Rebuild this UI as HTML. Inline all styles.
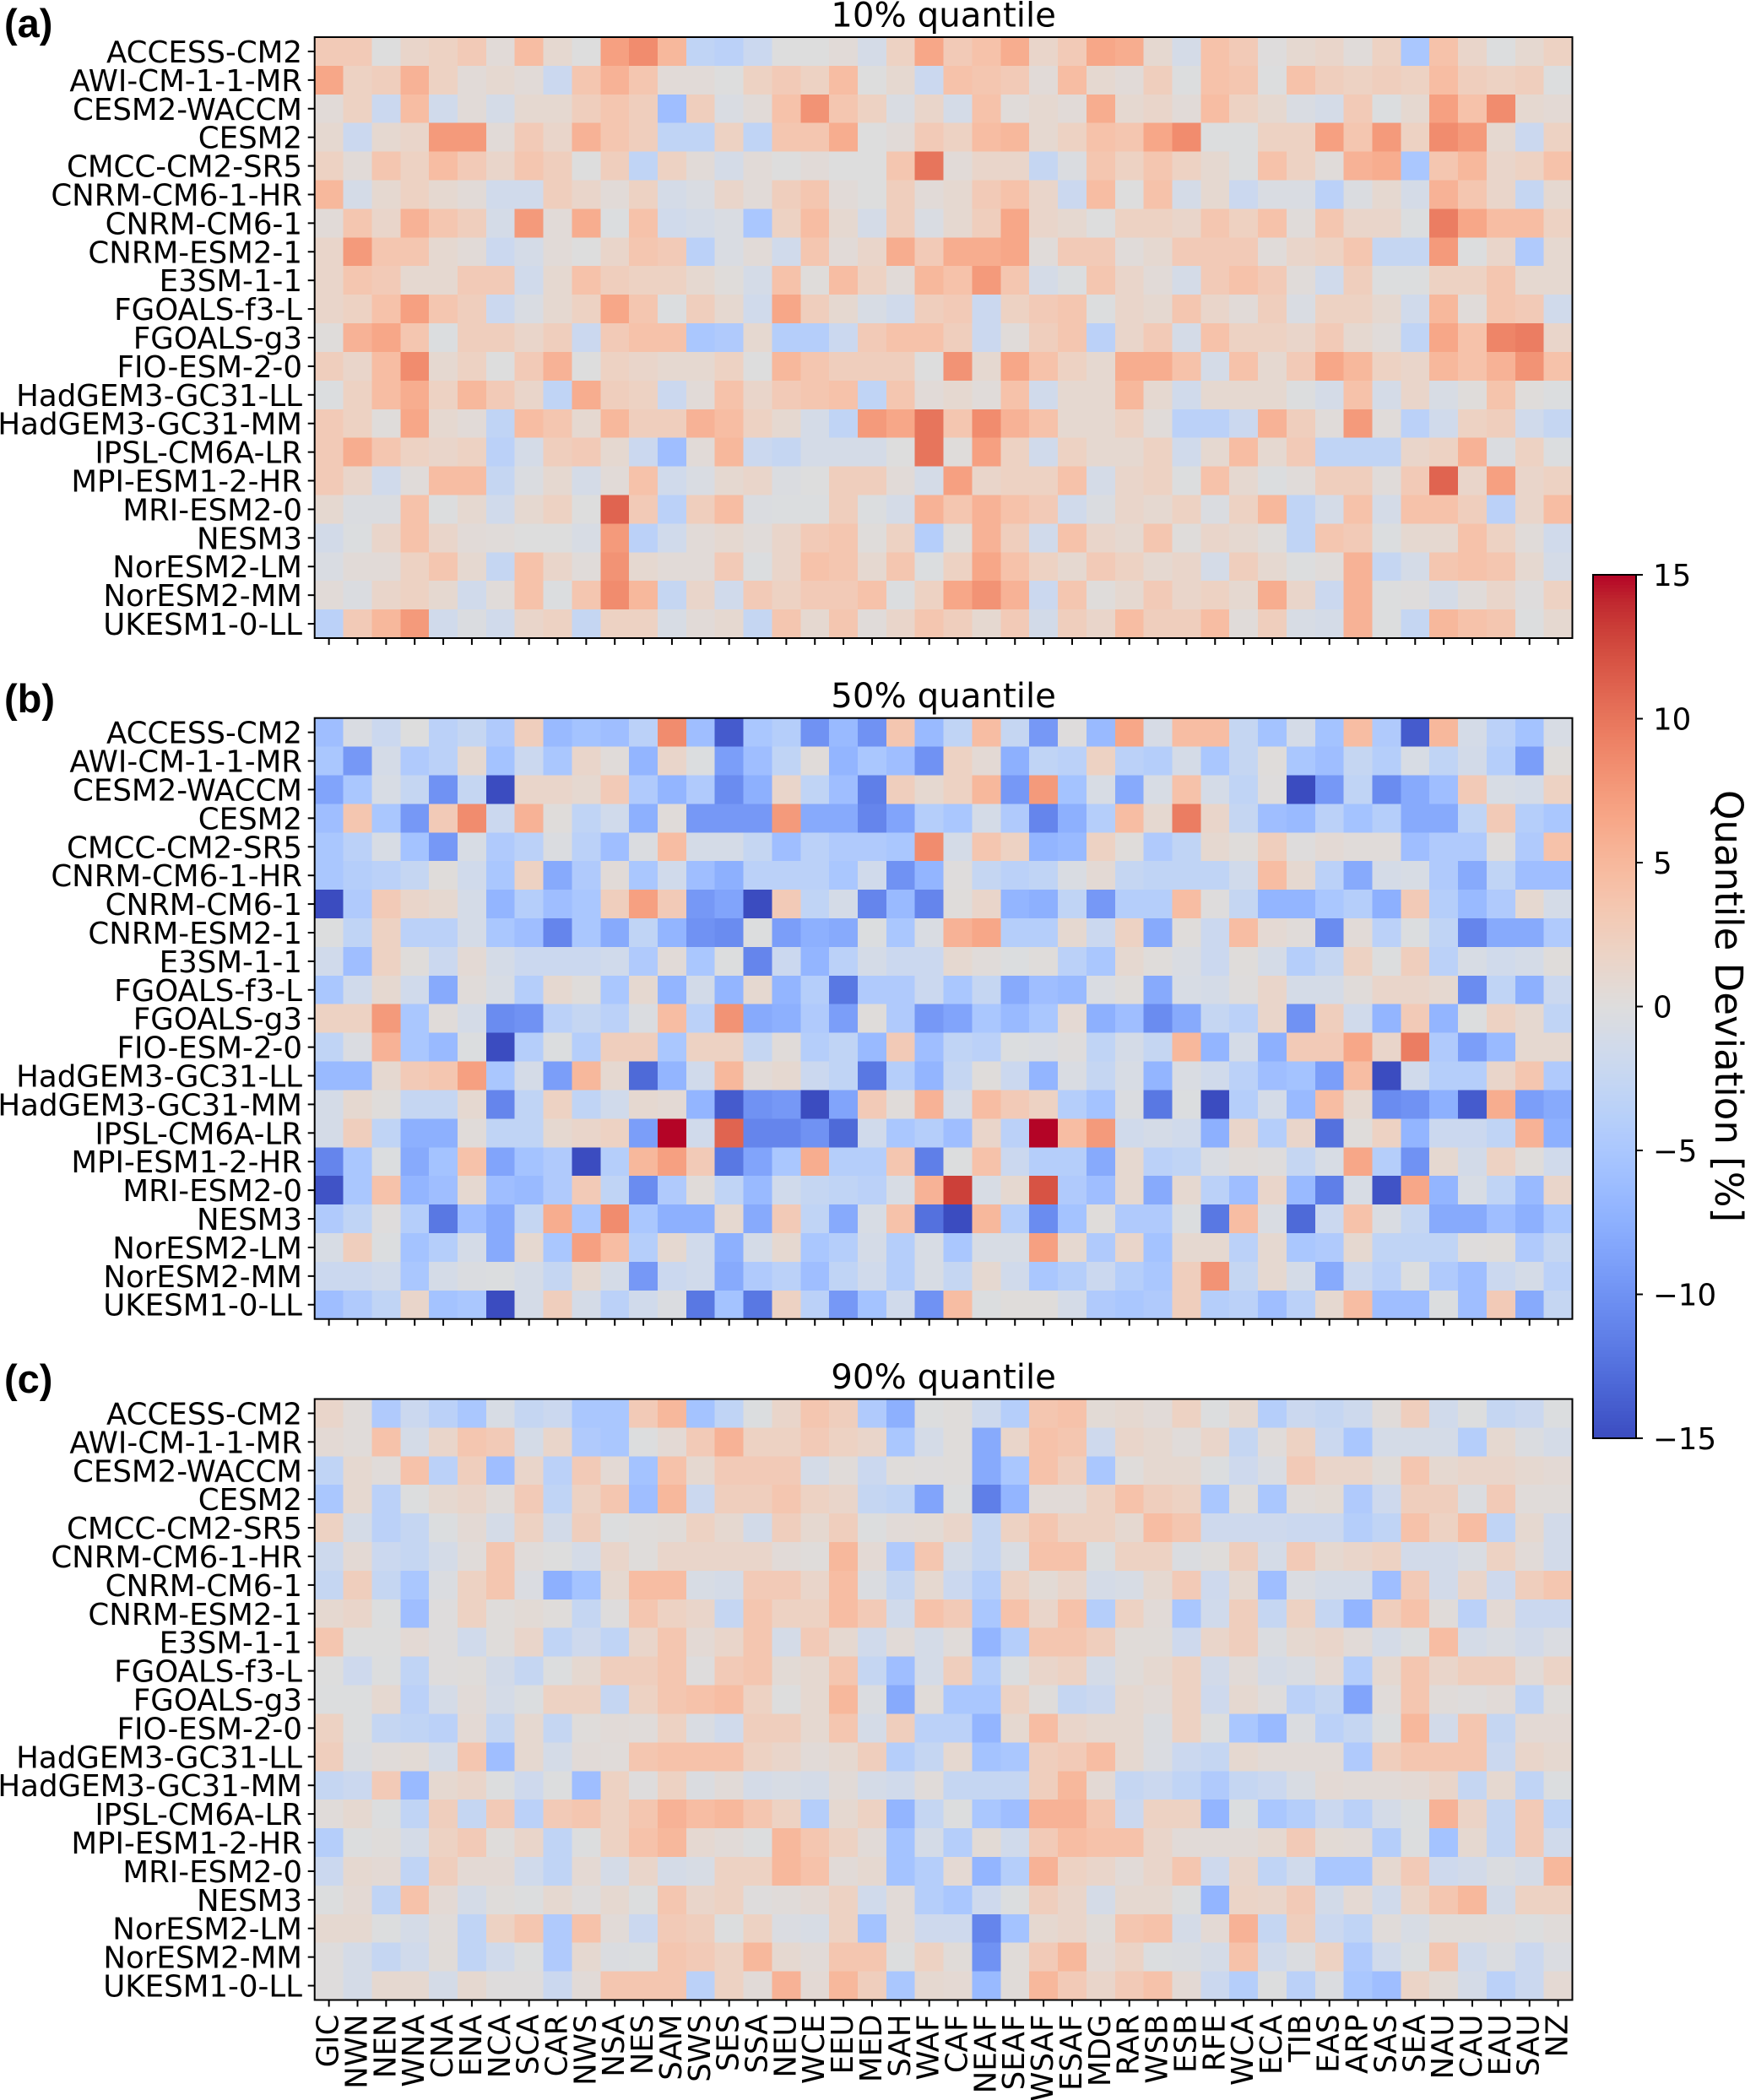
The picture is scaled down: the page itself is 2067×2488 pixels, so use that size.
<!DOCTYPE html>
<html lang="en">
<head>
<meta charset="utf-8">
<title>Quantile deviation heatmaps</title>
<style>
html,body{margin:0;padding:0;background:#fff;}
svg{display:block;}
text{font-family:"DejaVu Sans",sans-serif;fill:#000;}
</style>
</head>
<body>
<svg id="chart" xmlns="http://www.w3.org/2000/svg" width="2067" height="2488" viewBox="0 0 2067 2488"></svg>
<script>
const regions = ["GIC","NWN","NEN","WNA","CNA","ENA","NCA","SCA","CAR","NWS","NSA","NES","SAM","SWS","SES","SSA","NEU","WCE","EEU","MED","SAH","WAF","CAF","NEAF","SEAF","WSAF","ESAF","MDG","RAR","WSB","ESB","RFE","WCA","ECA","TIB","EAS","ARP","SAS","SEA","NAU","CAU","EAU","SAU","NZ"];
const models = ["ACCESS-CM2","AWI-CM-1-1-MR","CESM2-WACCM","CESM2","CMCC-CM2-SR5","CNRM-CM6-1-HR","CNRM-CM6-1","CNRM-ESM2-1","E3SM-1-1","FGOALS-f3-L","FGOALS-g3","FIO-ESM-2-0","HadGEM3-GC31-LL","HadGEM3-GC31-MM","IPSL-CM6A-LR","MPI-ESM1-2-HR","MRI-ESM2-0","NESM3","NorESM2-LM","NorESM2-MM","UKESM1-0-LL"];
const colorbarTicks = [15,10,5,0,-5,-10,-15];
const panelLetters = ["(a)","(b)","(c)"];
const panelTitles = ["10% quantile","50% quantile","90% quantile"];

const q10 = [
[3,3,0,1.5,2,3,.5,4.5,1,0,7,8.5,5,-3,-3.5,-2,0,0,.5,-1,2,6.5, 3,4,6,1.5,3,6.5,6,1,-1,4,3,.1,1,1.5,.3,2,-5,4,1.5,-.1,1,2],
[6.5,2,2.5,5.5,2,.5,1,.5,-2,3.5,5.5,3.5,.5,.5,0,2,3,2,4.5,0,1,-2, 4,3.5,3,.5,4.5,1,.5,2.5,-.1,4,3.5,-.1,4,2.5,2,2.5,2,4.5,2.5,2,2.5,-.1],
[.5,2,-2,4.5,-1.5,.5,-1,1,1,2.5,3.5,2.5,-6,2.5,-.5,.5,4,8,3.5,2,-.5,1.5, -1,4,.3,1,.5,6,1,1.5,.5,4.5,2,1,-.5,-1,3,-.2,1,7,4,8.5,1,.7],
[1,-2,1,1.5,7.5,7.5,.5,3,1.5,5.5,3.5,2.5,-3,-3,2,-3,3.5,3.5,6,0,.5,3, 2,4.5,5,1,2,4,3.5,6.5,8.5,-.1,-.1,2,2,7,3.5,7.5,2,8.5,7.5,1,-2,2],
[2,.5,3.5,2,4.5,3,1.5,3.5,2.5,0,2.5,-3,2,.5,-1,.5,0,.5,0,0,3.5,10, .5,1.5,1.5,-2.5,-.3,3.5,2,3.5,2,1,-.1,4,2,.3,5.5,6,-5,3.5,5,1.5,2,4],
[5,-1,1,2,1,.5,-1.5,-1.5,2.5,1.5,.5,2,-1,-.5,1.5,.5,2.5,3.5,.5,0,2.5,.5, 1,3,4,1.5,-2,4.5,0,4,-1,1,-2,-.5,-.5,-3.5,-.3,1,-1,5.5,3.5,1.5,-2.5,1],
[.5,3.5,1.5,5.5,3.5,2.5,-1,7.5,.5,6,-.2,4,-1.5,-1,-.5,-5,2,4.5,1,-1,2.5,-.5, 1,2.5,6.5,1.5,1,0,2,2,1.5,3.5,2.2,4,.3,3.5,1.5,1.5,-.2,9.5,6.5,4.5,4.5,2],
[1.5,7.5,3.5,3.5,1,.5,-2,-1,.5,0,1.5,3.5,3,-3.5,-.5,.5,-1.5,3.5,.5,1.5,6,3, 6,6,6.5,.3,3,3,.3,1,3,3,3,.3,1.5,2,3.5,-2.5,-2.5,7.5,-.1,1.5,-4.5,1],
[1.5,3.5,3,1,1,3,3,-1.5,1,4,2.5,2,2,1,.2,-1,4,.2,4.5,2,.5,5, 4,7.5,3.5,-1,-.2,3.5,1.5,.5,-1,3,4,3,.3,-1.5,2.5,-.1,-.1,2,2,3.5,1,1],
[1.5,2,4,7,3.5,2.5,-2,-.5,1,2,6.5,3.5,-.2,2.5,1,-1.5,6.5,2.5,1,-.7,-1.5,2.5, 3,-2,2,3,3.5,-.1,1.5,1,3.5,1.5,.5,2.5,-.5,2,2,1,-1.5,5,.3,3.5,3,-1.5],
[.2,5.5,6.5,3.5,-.2,2.5,2.5,1.5,2.5,-2,3,4,4,-5,-4.5,1,-4,-4,-2,3,4,4, 2.5,-2,.3,2.5,3.5,-3.5,1.5,3,-1,4,2,2,1.5,3,1,.3,-3,6.5,4,9,9.5,1.5],
[2.5,1.5,4.5,8.5,1,2,0,3,5.5,0,2,1.5,1,1,2,0,5,3.5,2.5,2.5,2.5,0, 8,1,6.5,4,2,1,6,6,4,-1,4,1,3,6.5,5,2,1.5,5,4,5.5,8,4],
[-.2,2,4.5,6,2,5,3,1.5,-3,6,2.5,2,-2,.5,4,1.5,3,3.5,4,-3,3.5,.5, 1,.3,4,-1.5,1,1,5,1,-1.5,1,1,1,-.1,-1,4,-1,1.5,-.7,.2,3.8,.2,-.2],
[3,2,.2,6.5,1,.5,-3,4.5,3.5,1,5,2.5,2.5,5.5,4.5,2,1,-1,-3,7.5,6.5,10, 3.5,8.5,5.5,4,1,1,2,.3,-3.5,-3.5,-2,5.5,2.5,.3,7.5,.3,-3.5,-1.5,2,2.5,-1.5,-2.5],
[3,6,3.5,2,1.5,2,-3.5,-1,2.5,3,1,-2,-6,.5,5,-2,-2.5,-1,-1,-1,0,10, .2,7,2,-1.5,2,1,1,2,-1.5,1,4.5,1,3,-3,-3,-3,1.5,2,5.5,-.3,2,-.2],
[3,1.5,-1.5,.3,4.5,4.5,-2.5,-.3,1,-1,.5,4,-1.5,-.5,1,1.5,-.3,0,2.5,2.5,.5,-1, 7,1.5,2,2,4,-1,1.5,2,-.1,4,1,-.2,.3,2.5,2.5,.3,3,11,1.5,7,1.5,2],
[1,-.3,-.3,4,-.1,1,-1.5,1,2,0,11,3,-3.5,2.5,4.5,-.3,-.2,-.2,2.5,-.2,-1,5.5, 3.5,5.5,4,3,-1.5,-.3,1.5,1,2,-.3,2,5,-3,-1,4,-1,4,4,2.5,-3.5,1.5,4.5],
[-1.2,-.2,1.5,4,1.5,.5,.3,0,0,-.7,7.5,-3.5,-1.5,.5,1,.3,1.5,3,3.5,.2,2,-4, .2,5.5,2.5,-1.5,4,1.5,1,3.5,.2,1.5,1,.2,-3,3.5,3,-.2,1,1,4,2,.3,-1.5],
[-.5,.5,.5,2,3.5,1,-2.5,4,1.5,.3,8,1,.5,.5,3,-.2,1.5,4,3.5,1,3.5,-.2, 2,6.5,4,2,1,3,2,1,1.5,-1,2.5,1,-.1,.3,5.5,-2.5,-1,3.5,4,3.5,1,-1],
[.5,-.3,1.5,2,1,-1.5,.3,4,-.2,3.5,8.5,5,-2.5,1.5,-1.5,3,2,3,3,4,-.2,2, 6.5,8,5.5,-2,3.5,.2,1,3,1.5,2,1,6,1.5,-2,5.5,-.1,.1,-1,.3,1.5,.1,2],
[-3.5,3,5,7.5,-1.5,-.3,-1.5,1.5,2,-2.5,2,2,-.7,.5,1,-2.5,3.5,1,3.5,.3,1.5,3.5, 2.5,1,3,-1.2,2.5,1.5,4.5,2.5,2.5,4.5,.3,2.5,-.7,-1,5.5,-.1,-2.5,5,4,3.5,-.1,1]
];

const q50 = [
[-6,-.5,-2,0,-3.5,-2.5,-4.5,2.5,-6.5,-5.5,-6,-3.5,8.5,-6,-14,-5,-4,-10,-6.5,-10,3.5,-6.5, -3,4.5,-2.5,-9.5,.1,-6.5,6.5,-.8,4.5,4.5,-2.5,-5.5,-1,-5.5,4.5,-4.5,-14,5,-1,-3.5,-5.5,-.7],
[-5,-9.5,-1,-4.5,-3.5,1,-5.5,-2,-5,1.5,.3,-7,1.5,-.2,-9,-6,-3,.3,-7,-5,-6,-10, 2,.7,-7.5,-3,-3.5,2,-3.5,-4,-1,-5,-2.5,.2,-5,-6,-2.5,-4,-.7,-3,-1.2,-4,-9,.2],
[-8.5,-5,-.7,-2.5,-10,-2.5,-15,1.5,1.5,1,3,-4.5,-7,-4.5,-10.5,-7.5,1.5,-3,-6,-11.5,2.5,1, 2,5,-9.5,7.5,-5.5,-.7,-8,-.7,4,-1,-3,.1,-15,-9.5,-3,-10.5,-8,-6,3,-.7,-1,2],
[-6,3.5,-5,-9.5,3,8.5,-2,5.5,.2,-3,-1.5,-7.5,.3,-9.5,-9.5,-9.5,7.5,-8,-8,-11,-8.5,-4, -5,-1,-4.5,-11,-7.5,-4,4.5,1,9.5,1.5,-2.5,-6,-6.5,-3.5,-5.5,-4,-8,-8,-3,3,-4,-5],
[-5,-3.5,-.7,-5.5,-9.5,-.7,-4.5,-3.5,-.3,-3.5,-6,-.3,4.5,-1,-1,-2.5,-6,-3.5,-4.5,-4.5,-5,8.5, -1,3.5,2,-7,-6.5,2,.2,-4.5,-3,1,.2,2.5,.1,.7,.3,.3,-6,-4.5,-4.5,.1,-4.5,4],
[-5,-4,-3.5,-2.5,.2,-1.5,-5,2,-8,-4.5,.5,-5,-1.5,-6,-7.5,-3.5,-3.5,-3.5,-5,-1.5,-10,-7, .1,-2.5,-3.5,-3,-.5,.7,-2.5,-3,-3,-3,-1.5,4.5,1,-3.5,-8,-1,-.7,-4.5,-8,-3,-6,-6],
[-15,-4.5,3,1.5,1,-1,-7,-4,-6,-5,2.5,7,3,-9.5,-8.5,-15,3,-3,-1,-11,-6.5,-11, .2,1.5,-7,-7.5,-3,-9.5,-4,-4,4.5,.1,-2.5,-7,-7,-5,-4,-7.5,3,-4,-6.5,-4.5,1,-1],
[-.1,-3,2,-3.5,-3.5,-1,-5,-6,-11,-5,-8,-3,-7,-10,-10.5,-.1,-9,-7.5,-8,-.2,-5,-.5, 5.5,6.5,-4,-4,1,-2,2,-8,.2,-2,4.5,.8,.3,-10.5,.5,-3.5,-.2,-3,-11,-8,-8,-4.5],
[-1.5,-6,2,.2,-2,.7,-1,-2,-2,-2,-1.5,-4.5,.5,-5,-.1,-11,-2,-7,-3.5,-1,-2,-2, 1,.3,-.2,.2,-3.5,-5,1,.2,-.5,-2,.2,-1,-4,-2.5,2,-.1,2.5,-3.5,-.7,-1.5,-1,.2],
[-5,-1.5,1,-1.5,-8,.3,-.7,-4,1,.2,-5,1,-7,-1.2,-7,1,-7,-4,-12,-4.5,-4.5,-2, -5,-2.5,-8,-6,-6.5,-.5,.2,-8,-.7,-1,.1,1.5,-1,-1,.3,1.5,1.5,1,-10.5,-3,-7.5,-2],
[2,2,7.5,-5,.3,-1,-10.5,-10,-3.5,-2.5,-3.5,-.3,4.5,-3.5,8,-8,-7.5,-4.5,-9,.2,-4.5,-9.5, -8.5,-5,-6.5,-5,.8,-7.5,-6,-10.5,-8,-2.5,-3.5,1.5,-10,2.5,-1.5,-7,3,-7,-.1,2,1,-3],
[-3,-.4,5.5,-5,-6.5,-.2,-15,-4,-.2,-4,2.5,2.5,-5,2,2,-2.5,.3,-4,-3,-6.5,3,-6, -3,-3.5,-.2,-.5,.1,-3,-1,-2.5,5,-7,-1,-7.5,3,3,6.5,1.5,9.5,-4.5,-9,-6.5,1,1],
[-6.5,-6.5,1,3,3.5,7,-5,-1,-9,5,1,-13,-7,-1.5,5,.5,1,-2,-3,-12,-4,-7, -2.5,.2,-2,-7,-.5,-2.5,-.7,-7,-.5,-1.5,-3.5,-6,-5.5,-9,4.5,-15,-1.5,-4,-4,1.5,3.5,-4.5],
[-1,1,.2,-2.5,-2.5,1,-11,-3,2,-3,-1.5,1,.7,-7,-14,-10,-9.5,-15,-8.5,3,.3,5.5, -1,4.5,3,2,-4,-5.5,-.3,-12,-.2,-15,-4,-1,-6.5,4.5,1,-10.5,-10,-7.5,-14,6,-9,-8],
[-1,2.5,-3,-7.5,-7.5,.3,-3,-3,1,1.5,2,-9,15,-1.5,11,-11,-11,-10,-13,-1.5,-5,-4, -6,1.5,-3.5,15,4.5,7.5,-1.5,-1,-1.5,-7.5,1.5,-4,1.5,-12.5,.2,2,-7,-2,-2,-3,5.5,-7.5],
[-11,-5,-.2,-8,-5.5,4,-8.5,-5.5,-4.5,-15,-4,5,7,3,-12,-8.5,-5,6,-4,-4,3.5,-11.5, -.1,4,-2,-4,-4,-8,1,-3.5,-3,-.5,.3,.1,-2.5,-.7,6.5,-4,-10,1,-1.2,2,.2,-1.5],
[-14.5,-5,4,-7,-6,1,-6,-6.5,-4.5,3,-3,-10.5,-4.5,.3,-3,-6.5,-1.5,-2.5,-3,-3.5,-.7,5.5, 13,-.7,1,12,-4.5,-6,1,-8,1,-3.5,-6,1.5,-6.5,-11.5,-.7,-14.5,6.5,-7,-.7,-3,-6.5,1.5],
[-4.5,-3,.1,-4,-12,-6,-8,-2.5,6,-5,8.5,-5,-7.5,-7.5,1,-8,3,-3,-8,-.7,4,-12.5, -15,5,-4,-10.5,-5.5,.2,-4.5,-4.5,-.2,-12,4.5,-.5,-13,-2,4,-.5,-2.5,-8,-8,-6,-7.5,-5],
[-.7,2.5,-.2,-5.5,-4,-1,-8,1,-5,7,4.5,-4,1,-1.5,-7.5,-1,1,-5,-4,-1,-4,-.7, -5,-.7,-.7,7,1,-4.5,1.5,-5.5,1,1,-3.5,1,-5,-4.5,1,-3,-3,-3,.1,.2,-4.5,-2.5],
[-2,-2,-1.5,-5,-1,-.3,-.2,-1,-2.5,1,-1,-9.5,-2,-1.5,-8,-4.5,-3.5,-6,-3,-1.5,-4,-.7, -2.5,1,-1.5,-5,-4,-2,-4,-5,2.5,8,-2.5,1,-1,-8,-2,-3.5,-.2,-4.5,-6,-2,-1,-3.5],
[-6,-4.5,-3,1.5,-5.5,-5,-15,-1,2.5,-1,-3.5,-1.5,-.3,-12,-5.5,-12,2,-3.5,-9.5,-5.5,-1.5,-10, 4.5,-.2,.2,.2,-1,-4.5,-5,-4.5,2.5,-4,-3.5,-6,-3.5,1,4.5,-6,-6,-.2,-6,3,-8,-2.5]
];

const q90 = [
[1.5,.3,-4.5,-2,-3.5,-5,-.7,-2.5,-2,-5,-5,3,5,-5.5,-3,-.2,1.5,3.5,2.5,-4.5,-7.5,-.1, .2,-1.8,-4,3.5,4,.6,1,.5,2,-.1,1,-4,-2,-2.5,-1.8,.3,2.5,-1.5,-.1,-2.5,-2,-.2],
[.7,.3,4,-1,1.5,3.5,3,-1,1.5,-4.5,-5,-.1,.7,3,5.5,2,2,3,2,1.5,-5,-1, .2,-8,1.5,4,3.5,-1.7,1.5,1,.3,1.5,-2.5,.3,2,-2,-5,-1,-1,-1,-4,1,-.3,-1],
[-3,1,.3,4,-3.5,2.5,-6,1.5,-3.5,3,.7,-5.5,4,1,3,3,3,-1,.3,-2,.2,.1, .2,-8,-5,4,2.5,-5,.2,1,1,-.2,-1.7,-.5,3,1.5,1.5,.4,3.5,1,1.5,1.5,1,.7],
[-5,1,-3.5,-.1,1,1.5,.3,3,-3,2,3.5,-6,5,-2,2.5,2.5,3.5,2,1.5,-2.5,-3,-8.5, -.1,-11.5,-7,.5,.5,2,4,2.5,2,-5,.2,-5,.3,.6,-4.5,-1.7,2.5,2.5,-.3,3,.3,.3],
[2,-1,-3.5,-2.5,-.2,.7,-1,2,-1.2,2.5,-.1,.2,.4,2,1,-1.2,2.5,1,2.5,-.1,.5,.6, 1.5,-2.5,2,3.5,2,2,1,4.5,3.5,-1.7,-1.7,-1.7,-2,-2,-4,-3,4,2,4.5,-3,1,-1.3],
[-1.8,.7,-2,-2.5,-1,.3,3.5,.3,0,-1,1.5,.2,1.5,1.5,1.5,1.5,.5,.2,5,.7,-4.5,3.5, -1,-2.5,-.5,4,4,-.2,2,2,-.3,.2,2.5,-1,3,1,1.5,2,-1.3,-1.3,-.5,2,.5,-1.3],
[-2.5,2.5,-2.5,-5,-.3,2,3.5,-.4,-7.5,-5.5,1,4.5,4.5,-.7,-1,3,3,1.5,4.5,-.3,-2.5,1, -2,-4,2,.6,1.5,-1,-.7,1,3,-1.7,1,-6,-.4,-1,-1,-6,3,-1.3,1.5,-1.7,2.5,3.5],
[1,1.5,-.1,-6,.1,2,.2,.6,.2,-2.5,.1,3.5,2,1.5,-2.5,3.5,2,2,4.5,3,-1.5,4, 3,-5,4,1.5,4,-4,2,.5,-5,-1.5,2.5,-2.5,2,-2.5,-7,2.5,4,.3,-3.5,.7,-2,-2],
[3.5,0,0,.7,.1,-1.5,.2,1.5,-3,-1.7,-3,1.5,3.5,.7,1.5,3.5,-1,3,1,-1.5,.5,-1, .3,-7,-4,3.5,3.5,2.5,.4,.4,-1.7,1.5,2.5,-.3,1,1.5,.5,-1,-.2,4.5,-1,-.5,-1.3,-.4],
[0,-1.7,-.1,-3,.1,.2,-1.2,-2.5,-.1,1,2.5,2.5,3.5,.1,3,3.5,.6,1,3.5,-2.5,-6,-1, 2.5,-4,-.2,1.5,2,-1,.4,1,2,-1.3,.5,-1,-.5,.8,-4,1,3.5,1.5,2.5,2.5,.5,1.8],
[-.1,-.1,1,-3.5,-1,.5,-1,-.2,2,2,-2.5,2,3.5,4,4.5,2,0,1,5,-.3,-8,.4, -5,-5,2,.2,-2.5,-2,1,.5,2,-1.7,1,.1,-3.5,-2.5,-8.5,.3,3.5,.3,.1,.5,-3,.2],
[2,-.1,-2.5,-3,-3.5,.7,-2.5,1,-2.5,.2,.5,.3,2,-.5,-1.5,2.5,2.5,1,3.5,-1,2.5,-3.5, -3.5,-7,1,4.5,1.5,1,1,-.3,2,-.1,-5,-6.5,-.3,-3.5,-2.5,-.2,5,-1.3,3.5,-2.5,.7,.7],
[2.5,-.3,.3,.6,-1,3.5,-6,1,-1,.5,.3,3.5,4,4,4,2,1.5,.5,1,2.5,-4,-2.5, 1,-5.5,-5,2.5,3,4.5,1,-.4,-2,-2.5,1,.5,.5,.5,-4.5,2.5,3.5,3.5,3.5,-2,1.5,1],
[-2.5,-2,3,-6.5,1,1.5,-.1,-1.7,-.1,-6,2,.1,2,-.3,.5,-1,-.7,-1,.5,-1,-1.5,.3, -2.5,-2.5,-2.5,2.5,5,.7,-2.5,-2,-3,-4.5,-2.5,-2,-.6,.7,.5,.5,.7,1.5,-2.5,1,-3,-.2],
[.3,1,-.1,-3,2.5,-2.5,3,-3.5,3,3.5,2,3.5,5.5,4.5,5,3.5,2,-4,1,2,-7,-2.5, -.1,-5,-6,5.5,5.5,3.5,-2,2,2,-7,-.2,-5,-4,-2,-3.5,-1,-.2,5.5,1.8,-2.5,3,-3],
[-4,-.1,.2,-1,2,3,.2,1.5,-3,-.1,2,4,5,.9,.5,-.1,5,3.5,2,.5,-5.5,-1, -4,.6,-1.5,3,4.5,4,4,1.5,.5,.5,.5,1,3,.6,.5,-4,-.1,-5.5,1,-2.5,3,-1.5],
[-2,1,.7,-3,2.5,.7,.7,-1.5,-3,.8,-1,1.5,-1,-.7,2,2,5,4,.5,1,-5.5,-4, .8,-7,-4,5.5,2,1.5,.5,1.5,3.5,-1.7,1.5,-3,-1.5,-5,-5,1,3,-1.7,-1.3,-.3,-1,5],
[-.1,.7,-3,4,.7,-1,.2,-.1,1,.1,1,-.1,3.5,1.5,2,.1,.3,.7,2,-1.5,.5,-4, -5,-1.7,-.2,2.5,1.5,-1,1,1,-.1,-7,1.7,1.5,3,-1.2,.8,-1.5,1.7,3.5,5,-1.2,2,2],
[1,1,-.1,-1,.3,-3,2,3.5,-4.5,4,.5,-2,3,2.5,-.1,2,-.4,-.7,2,-5.5,.5,-1.7, -1.7,-11,-5.5,1,1.5,.4,3.5,4,-1,.7,5.5,-2.5,2.5,-2,-3,.3,-.7,.4,.4,.3,-.1,.3],
[.1,-1,-2.5,-1.5,.4,-3,-1.5,-.1,-4.5,1,-.3,-.2,3.5,3,2,5,1,.5,3.5,3.5,-.1,2, .4,-10,.4,3,5,.7,1.8,-.2,-.3,-1,4,-1.5,-.3,2,-4.5,-1.5,-.2,3.5,-1.5,-.3,-2,-.4],
[.1,-1,1,1,-1,1,.1,.1,-2,.5,3.5,3.5,3.5,-3.5,2,.5,5.5,.7,5,2.5,-5,1, .8,-6.5,.4,5,3,1.5,3,4,.7,-2,-4,-.1,-3.5,-.3,-5,-6,1.7,.6,-1,-3.5,-2,.8]
];

const panels = [q10, q50, q90];

const coolwarmStops = [[59,76,192],[68,90,204],[77,104,215],[87,117,225],[98,130,234],[108,142,241],[119,154,247],[130,165,251],[141,176,254],[152,185,255],[163,194,255],[174,201,253],[184,208,249],[194,213,244],[204,217,238],[213,219,230],[221,221,221],[229,216,209],[236,211,197],[241,204,185],[245,196,173],[247,187,160],[247,177,148],[247,166,135],[244,154,123],[241,141,111],[236,127,99],[229,112,88],[222,96,77],[213,80,66],[203,62,56],[192,40,47],[180,4,38]];

const svgNS = "http://www.w3.org/2000/svg";
const root = document.getElementById("chart");

const frameLeft = 372.7, frameWidth = 1489.8, frameHeight = 712;
const frameTops = [44, 850.7, 1657.5];
const vMin = -15, vMax = 15;
const barLeft = 1887, barWidth = 51, barTop = 681, barHeight = 1023;

function xScale(i){ return frameLeft + i * frameWidth / regions.length; }
function yScale(top, j){ return top + j * frameHeight / models.length; }
function barY(v){ return barTop + (vMax - v) / (vMax - vMin) * barHeight; }

function colour(v){
  const t = Math.max(0, Math.min(1, (v - vMin) / (vMax - vMin))) * (coolwarmStops.length - 1);
  const k = Math.min(Math.floor(t), coolwarmStops.length - 2);
  const f = t - k;
  const a = coolwarmStops[k], b = coolwarmStops[k + 1];
  return "rgb(" + [0,1,2].map(c => Math.round(a[c] + (b[c] - a[c]) * f)).join(",") + ")";
}

function make(tag, attrs, parent){
  const el = document.createElementNS(svgNS, tag);
  for (const key in attrs) el.setAttribute(key, attrs[key]);
  (parent || root).appendChild(el);
  return el;
}

panels.forEach(function(panel, p){
  const top = frameTops[p];
  const group = make("g", {});
  
  

  const letter = make("text", {x: 5, y: [44, 844, 1650][p], "font-size": 47, "font-weight": "bold"}, group);
  letter.style.fontFamily = '"Liberation Sans", sans-serif';
  letter.textContent = panelLetters[p];
  
  

  const title = make("text", {x: frameLeft + frameWidth / 2, y: top - 12.5, "font-size": 40.3, "text-anchor": "middle"}, group);
  title.textContent = panelTitles[p];
  
  

  panel.forEach(function(row, j){
    row.forEach(function(value, i){
      const cell = make("rect", {
        x: xScale(i), y: yScale(top, j),
        width: xScale(i + 1) - xScale(i) + 0.4,
        height: yScale(top, j + 1) - yScale(top, j) + 0.4,
        fill: colour(value), "shape-rendering": "crispEdges"
      }, group);
      
      
    });
  });

  const frame = make("rect", {x: frameLeft, y: top, width: frameWidth, height: frameHeight, fill: "none", stroke: "#000", "stroke-width": 2}, group);
  
  

  models.forEach(function(name, j){
    const yc = yScale(top, j + 0.5);
    const tick = make("line", {x1: frameLeft - 8, x2: frameLeft, y1: yc, y2: yc, stroke: "#000", "stroke-width": 2}, group);
    
    
    const label = make("text", {x: 358, y: yc + 13, "font-size": 35.6, "text-anchor": "end"}, group);
    label.textContent = name;
    
    
  });

  regions.forEach(function(name, i){
    const xc = xScale(i + 0.5);
    const bottom = top + frameHeight;
    const tick = make("line", {x1: xc, x2: xc, y1: bottom, y2: bottom + 8, stroke: "#000", "stroke-width": 2}, group);
    
    
    if (p === panels.length - 1) {
      const label = make("text", {
        x: xc + 11, y: bottom + 17, "font-size": 35.6, "text-anchor": "end",
        transform: "rotate(-90 " + (xc + 11) + " " + (bottom + 17) + ")"
      }, group);
      label.textContent = name;
      
      
    }
  });
});

const bar = make("g", {});


for (let s = 0; s < 256; s++) {
  const vTop = vMax - s * (vMax - vMin) / 256;
  const vBottom = vMax - (s + 1) * (vMax - vMin) / 256;
  const strip = make("rect", {
    x: barLeft, y: barY(vTop), width: barWidth, height: barY(vBottom) - barY(vTop) + 0.5,
    fill: colour((vTop + vBottom) / 2), "shape-rendering": "crispEdges"
  }, bar);
  
  
}
const barFrame = make("rect", {x: barLeft, y: barTop, width: barWidth, height: barHeight, fill: "none", stroke: "#000", "stroke-width": 2}, bar);



colorbarTicks.forEach(function(v){
  const y = barY(v);
  const tick = make("line", {x1: barLeft + barWidth, x2: barLeft + barWidth + 8, y1: y, y2: y, stroke: "#000", "stroke-width": 2}, bar);
  
  
  const label = make("text", {x: 1958, y: y + 13, "font-size": 35.6}, bar);
  label.textContent = String(v).replace("-", "\u2212");
  
  
});

const barTitle = make("text", {
  x: 2032, y: 1192, "font-size": 45, "text-anchor": "middle",
  transform: "rotate(90 2032 1192)"
}, bar);
barTitle.textContent = "Quantile Deviation [%]";


</script>
</body>
</html>
